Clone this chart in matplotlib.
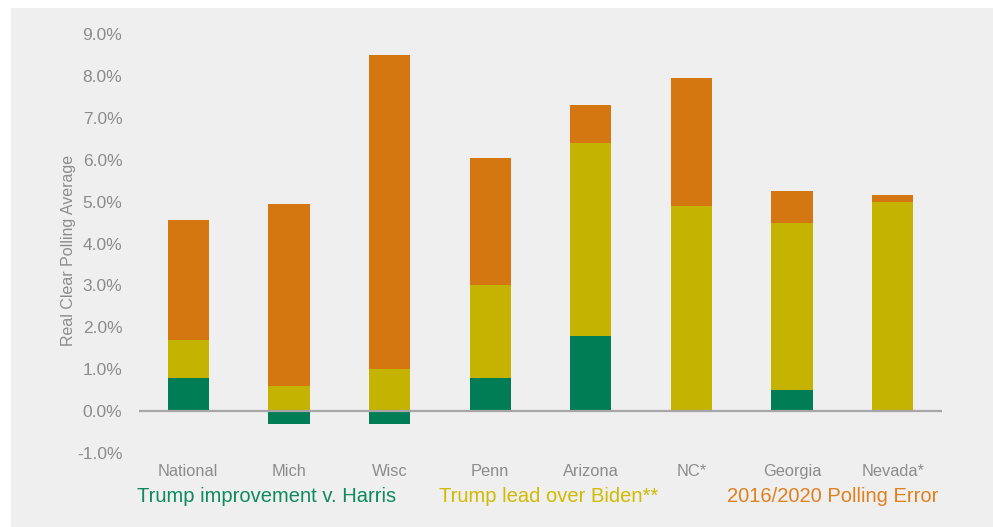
import numpy as np
import matplotlib
matplotlib.use("Agg")
import matplotlib.pyplot as plt
from matplotlib.patches import Rectangle
from matplotlib.ticker import FuncFormatter

states = ["National", "Mich", "Wisc", "Penn", "Arizona", "NC*", "Georgia", "Nevada*"]
# stacked components, in percentage points
harris_gain = [0.8, -0.3, -0.3, 0.8, 1.8, 0.0, 0.5, 0.0]
biden_lead = [1.7, 0.6, 1.0, 3.0, 6.4, 4.9, 4.5, 5.0]     # cumulative top of yellow
poll_error = [4.55, 4.95, 8.5, 6.05, 7.3, 7.95, 5.25, 5.15]  # cumulative top of orange

series_names = ["Trump improvement v. Harris", "Trump lead over Biden**", "2016/2020 Polling Error"]
bar_colors = ["#007d55", "#c4b300", "#d57710"]
text_colors = ["#0e8a5e", "#d0bb00", "#e0801e"]

plt.rcParams["font.family"] = ["Liberation Sans", "DejaVu Sans"]
grey = "#8c8c8c"

fig = plt.figure(figsize=(9.93, 5.27), dpi=100)
fig.patches.append(Rectangle((11 / 993, 0), 1, 1 - 8 / 527, transform=fig.transFigure,
                             facecolor="#efefef", edgecolor="none", zorder=-10))
ax = fig.add_axes([139 / 993, 1 - 453 / 527, (942 - 139) / 993, (453 - 34) / 527])
ax.set_facecolor("none")

x = np.arange(len(states))
g = np.array(harris_gain)
y_base = np.maximum(g, 0)
y_top = np.array(biden_lead)
o_top = np.array(poll_error)
w = 0.41

ax.bar(x, g, width=w, color=bar_colors[0], zorder=2)
ax.bar(x, y_top - y_base, bottom=y_base, width=w, color=bar_colors[1], zorder=2)
ax.bar(x, o_top - y_top, bottom=y_top, width=w, color=bar_colors[2], zorder=2)

ax.axhline(0, color="#a6a6a6", lw=1.6, zorder=3)
ax.set_xlim(-0.49, len(states) - 0.51)
ax.set_ylim(-1, 9)
ax.set_yticks(np.arange(-1, 10, 1))
ax.yaxis.set_major_formatter(FuncFormatter(lambda v, p: f"{v:.1f}%"))
for s in ax.spines.values():
    s.set_visible(False)
ax.tick_params(axis="y", length=0, pad=12, labelsize=12.5, labelcolor=grey)
ax.tick_params(axis="x", length=0, pad=0)
ax.set_xticks([])
ax.set_ylabel("Real Clear Polling Average", color=grey, fontsize=11.5)
ax.yaxis.set_label_coords(-0.078, 0.484)

for xi, name in zip(x, states):
    ax.text(xi, -1.45, name, ha="center", va="center", color=grey, fontsize=11.8)

legend_x = [267, 549, 833]
for lx, name, c in zip(legend_x, series_names, text_colors):
    fig.text(lx / 993, 1 - 497 / 527, name, ha="center", va="center", color=c, fontsize=14.5)

fig.savefig("out.png", dpi=100)
